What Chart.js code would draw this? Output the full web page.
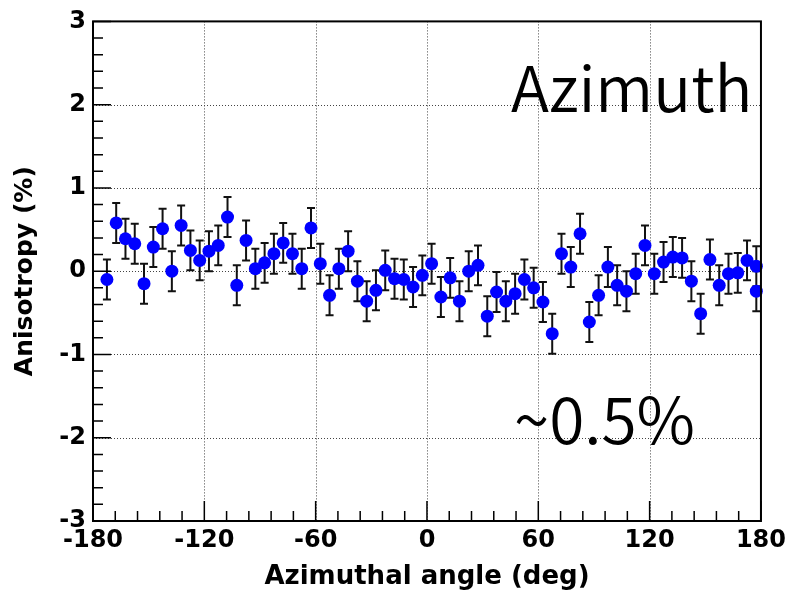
<!DOCTYPE html>
<html>
<head>
<meta charset="utf-8">
<script src="https://cdn.jsdelivr.net/npm/chart.js@4.4.1/dist/chart.umd.min.js"></script>
<style>
  html, body { margin: 0; padding: 0; background: #fff; }
</style>
</head>
<body>
<canvas id="chart" width="791" height="594"></canvas>
<script>
// azimuthal bin centres (deg), the last bin shows up twice at the right edge
const angles = [
    -172.5, -167.5, -162.5, -157.5, -152.5, -147.5, -142.5, -137.5, -132.5, -127.5,
    -122.5, -117.5, -112.5, -107.5, -102.5, -97.5, -92.5, -87.5, -82.5, -77.5,
    -72.5, -67.5, -62.5, -57.5, -52.5, -47.5, -42.5, -37.5, -32.5, -27.5,
    -22.5, -17.5, -12.5, -7.5, -2.5, 2.5, 7.5, 12.5, 17.5, 22.5,
    27.5, 32.5, 37.5, 42.5, 47.5, 52.5, 57.5, 62.5, 67.5, 72.5,
    77.5, 82.5, 87.5, 92.5, 97.5, 102.5, 107.5, 112.5, 117.5, 122.5,
    127.5, 132.5, 137.5, 142.5, 147.5, 152.5, 157.5, 162.5, 167.5, 172.5,
    177.5, 177.5
];
const anisotropy = [
    -0.10, 0.58, 0.39, 0.33, -0.15, 0.29, 0.51, 0.00, 0.55, 0.25,
    0.13, 0.24, 0.31, 0.65, -0.17, 0.37, 0.03, 0.10, 0.21, 0.34,
    0.21, 0.03, 0.52, 0.09, -0.29, 0.03, 0.24, -0.12, -0.36, -0.23,
    0.01, -0.09, -0.10, -0.19, -0.05, 0.09, -0.31, -0.08, -0.36, 0.00,
    0.07, -0.54, -0.25, -0.36, -0.27, -0.10, -0.20, -0.37, -0.75, 0.21,
    0.05, 0.45, -0.61, -0.29, 0.05, -0.17, -0.24, -0.03, 0.31, -0.03,
    0.11, 0.17, 0.16, -0.12, -0.51, 0.14, -0.17, -0.03, -0.02, 0.13,
    0.06, -0.24
];
const errors = [
    0.24, 0.24, 0.24, 0.24, 0.24, 0.24, 0.24, 0.24, 0.24, 0.24,
    0.24, 0.24, 0.24, 0.24, 0.24, 0.24, 0.24, 0.24, 0.24, 0.24,
    0.24, 0.24, 0.24, 0.24, 0.24, 0.24, 0.24, 0.24, 0.24, 0.24,
    0.24, 0.24, 0.24, 0.24, 0.24, 0.24, 0.24, 0.24, 0.24, 0.24,
    0.24, 0.24, 0.24, 0.24, 0.24, 0.24, 0.24, 0.24, 0.24, 0.24,
    0.24, 0.24, 0.24, 0.24, 0.24, 0.24, 0.24, 0.24, 0.24, 0.24,
    0.24, 0.24, 0.24, 0.24, 0.24, 0.24, 0.24, 0.24, 0.24, 0.24,
    0.24, 0.24
];
const xTicks = [-180, -120, -60, 0, 60, 120, 180];
const yTicks = [-3, -2, -1, 0, 1, 2, 3];
const minorDivisions = 5;
const noteTitle = 'Azimuth';
const noteAmplitude = '~0.5%';

const tickFont = { family: '"DejaVu Sans", sans-serif', size: 24, weight: 'bold' };
const yTitleFont = { family: '"DejaVu Sans", sans-serif', size: 25, weight: 'bold' };
const xTitleFont = { family: '"DejaVu Sans", sans-serif', size: 26, weight: 'bold' };

// ROOT style frame: dotted grid, error bars, inner ticks and the two notes
const rootFrame = {
    id: 'rootFrame',
    beforeDatasetsDraw(chart) {
        const { ctx, chartArea: a, scales: { x, y } } = chart;
        ctx.save();
        ctx.strokeStyle = '#444';
        ctx.lineWidth = 1;
        ctx.setLineDash([1, 2]);
        ctx.beginPath();
        xTicks.slice(1, -1).forEach(v => {
            const px = Math.round(x.getPixelForValue(v)) + 0.5;
            ctx.moveTo(px, a.top);
            ctx.lineTo(px, a.bottom);
        });
        yTicks.slice(1, -1).forEach(v => {
            const py = Math.round(y.getPixelForValue(v)) + 0.5;
            ctx.moveTo(a.left, py);
            ctx.lineTo(a.right, py);
        });
        ctx.stroke();

        ctx.setLineDash([]);
        ctx.strokeStyle = '#111';
        ctx.lineWidth = 2;
        ctx.beginPath();
        angles.forEach((ang, i) => {
            const px = x.getPixelForValue(ang);
            const top = y.getPixelForValue(anisotropy[i] + errors[i]);
            const bot = y.getPixelForValue(anisotropy[i] - errors[i]);
            ctx.moveTo(px, top);
            ctx.lineTo(px, bot);
            ctx.moveTo(px - 4, top);
            ctx.lineTo(px + 4, top);
            ctx.moveTo(px - 4, bot);
            ctx.lineTo(px + 4, bot);
        });
        ctx.stroke();
        ctx.restore();
    },
    afterDatasetsDraw(chart) {
        const { ctx, chartArea: a, scales: { x, y } } = chart;
        ctx.save();
        ctx.strokeStyle = '#000';
        ctx.lineWidth = 2;
        ctx.strokeRect(a.left, a.top, a.right - a.left, a.bottom - a.top);

        ctx.lineWidth = 1.5;
        ctx.beginPath();
        for (let i = 0; i < xTicks.length; i++) {
            const px = x.getPixelForValue(xTicks[i]);
            ctx.moveTo(px, a.bottom);
            ctx.lineTo(px, a.bottom - 20);
            if (i === xTicks.length - 1) break;
            const step = (xTicks[i + 1] - xTicks[i]) / minorDivisions;
            for (let k = 1; k < minorDivisions; k++) {
                const mx = x.getPixelForValue(xTicks[i] + k * step);
                ctx.moveTo(mx, a.bottom);
                ctx.lineTo(mx, a.bottom - 10);
            }
        }
        for (let i = 0; i < yTicks.length; i++) {
            const py = y.getPixelForValue(yTicks[i]);
            ctx.moveTo(a.left, py);
            ctx.lineTo(a.left + 18, py);
            if (i === yTicks.length - 1) break;
            const step = (yTicks[i + 1] - yTicks[i]) / minorDivisions;
            for (let k = 1; k < minorDivisions; k++) {
                const my = y.getPixelForValue(yTicks[i] + k * step);
                ctx.moveTo(a.left, my);
                ctx.lineTo(a.left + 10, my);
            }
        }
        ctx.stroke();

        ctx.fillStyle = '#000';
        ctx.textBaseline = 'alphabetic';
        ctx.textAlign = 'left';
        ctx.font = '350 63px "Noto Sans CJK JP", "Noto Sans", sans-serif';
        ctx.fillText(noteTitle, 511, 112);
        ctx.font = '350 64px "Noto Sans CJK JP", "Noto Sans", sans-serif';
        ctx.fillText(noteAmplitude, 514, 444);
        ctx.restore();
    }
};

new Chart(document.getElementById('chart'), {
    type: 'scatter',
    data: {
        datasets: [{
            data: angles.map((ang, i) => ({ x: ang, y: anisotropy[i] })),
            backgroundColor: '#0000ff',
            borderWidth: 0,
            pointRadius: 6.5,
            pointHoverRadius: 6.5,
            clip: false,
        }]
    },
    options: {
        responsive: false,
        animation: false,
        events: [],
        layout: { padding: { top: 19, right: 27, bottom: 0, left: 0 } },
        plugins: { legend: { display: false }, tooltip: { enabled: false } },
        scales: {
            x: {
                type: 'linear',
                min: -180,
                max: 180,
                grid: { display: false, drawTicks: false },
                border: { display: false },
                ticks: { stepSize: 60, color: '#000', font: tickFont, padding: 5, maxRotation: 0 },
                title: { display: true, text: 'Azimuthal angle (deg)', color: '#000', font: xTitleFont, padding: { top: 0, bottom: 1 } },
                afterFit(scale) { scale.height = 73; },
            },
            y: {
                min: -3,
                max: 3,
                grid: { display: false, drawTicks: false },
                border: { display: false },
                ticks: { stepSize: 1, color: '#000', font: tickFont, padding: 7 },
                title: { display: true, text: 'Anisotropy (%)', color: '#000', font: yTitleFont, padding: { top: 10, bottom: 0 } },
                afterFit(scale) { scale.width = 93; },
            }
        }
    },
    plugins: [rootFrame]
});
</script>
</body>
</html>
